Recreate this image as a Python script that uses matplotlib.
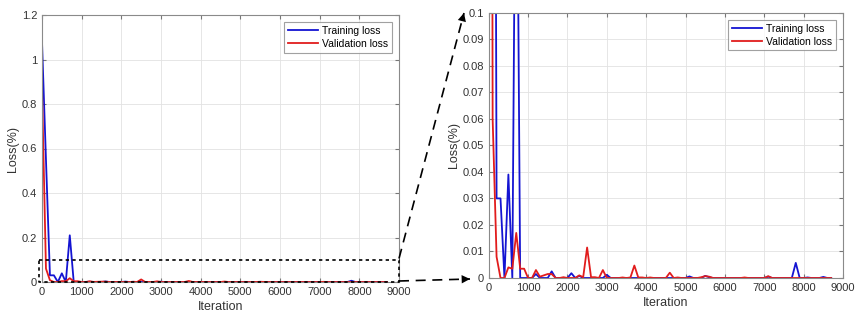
import matplotlib
matplotlib.use("Agg")
import matplotlib.pyplot as plt
from matplotlib.ticker import FuncFormatter
from matplotlib.patches import FancyArrowPatch
from matplotlib.lines import Line2D

plt.rcParams['font.family'] = ['Liberation Sans', 'DejaVu Sans']
plt.rcParams['font.size'] = 8

# iterations (every 100)
iterations = [i * 100 for i in range(88)]

training_loss = [
    1.08, 0.55, 0.030, 0.030, 0.0, 0.039, 0.0, 0.21, 0.0, 0.0,
    0.0, 0.0, 0.0015, 0.0, 0.0, 0.0, 0.0025, 0.0, 0.0, 0.0,
    0.0, 0.0018, 0.0, 0.0008, 0.0, 0.0, 0.0, 0.0, 0.0, 0.0,
    0.0012, 0.0, 0.0, 0.0, 0.0, 0.0, 0.0, 0.0, 0.0, 0.0,
    0.0, 0.0, 0.0, 0.0, 0.0, 0.0, 0.0, 0.0, 0.0, 0.0,
    0.0, 0.0006, 0.0, 0.0, 0.0, 0.0008, 0.0003, 0.0, 0.0, 0.0,
    0.0, 0.0, 0.0, 0.0, 0.0, 0.0, 0.0, 0.0, 0.0, 0.0,
    0.0, 0.0005, 0.0, 0.0, 0.0, 0.0, 0.0, 0.0, 0.0057, 0.0,
    0.0, 0.0002, 0.0, 0.0, 0.0, 0.0004, 0.0, 0.0,
]

validation_loss = [
    0.87, 0.06, 0.008, 0.0, 0.0, 0.004, 0.0035, 0.017, 0.0035, 0.0035,
    0.0, 0.0, 0.003, 0.0005, 0.001, 0.0015, 0.0015, 0.0, 0.0, 0.0003,
    0.0, 0.0, 0.0, 0.001, 0.0003, 0.0115, 0.0003, 0.0003, 0.0, 0.003,
    0.0, 0.0, 0.0, 0.0, 0.0002, 0.0, 0.0002, 0.0047, 0.0002, 0.0002,
    0.0, 0.0002, 0.0, 0.0, 0.0, 0.0, 0.002, 0.0, 0.0002, 0.0,
    0.0, 0.0, 0.0, 0.0, 0.0003, 0.0007, 0.0005, 0.0, 0.0, 0.0,
    0.0, 0.0, 0.0, 0.0, 0.0, 0.0002, 0.0, 0.0, 0.0, 0.0,
    0.0, 0.0007, 0.0, 0.0, 0.0, 0.0, 0.0, 0.0, 0.0, 0.0,
    0.0, 0.0, 0.0, 0.0, 0.0, 0.0, 0.0, 0.0,
]

x_ticks = [0, 1000, 2000, 3000, 4000, 5000, 6000, 7000, 8000, 9000]
y_ticks_full = [0, 0.2, 0.4, 0.6, 0.8, 1.0, 1.2]
y_ticks_zoom = [0, 0.01, 0.02, 0.03, 0.04, 0.05, 0.06, 0.07, 0.08, 0.09, 0.1]

blue = '#1414d2'
red = '#e11c1c'

fig = plt.figure(figsize=(8.65, 3.18), dpi=100)
W, H = 865, 318

def px(x, y):
    return (x / W, 1 - y / H)

ax1 = fig.add_axes([42 / W, 1 - 282 / H, 357 / W, 267 / H])
ax2 = fig.add_axes([488.7 / W, 1 - 278 / H, 354.3 / W, 265.3 / H])

fmt = FuncFormatter(lambda v, p: '%g' % round(v, 4))

for ax, yt in [(ax1, y_ticks_full), (ax2, y_ticks_zoom)]:
    ax.plot(iterations, training_loss, color=blue, lw=1.3, label='Training loss')
    ax.plot(iterations, validation_loss, color=red, lw=1.3, label='Validation loss')
    ax.set_xlim(0, 9000)
    ax.set_ylim(yt[0], yt[-1])
    ax.set_xticks(x_ticks)
    ax.set_yticks(yt)
    ax.yaxis.set_major_formatter(fmt)
    ax.grid(True, color='#e2e2e2', lw=0.6)
    ax.set_axisbelow(True)
    ax.tick_params(direction='in', length=3, color='#777777', labelcolor='#333333',
                   top=True, right=True, labelsize=8)
    for s in ax.spines.values():
        s.set_color('#8a8a8a')
        s.set_linewidth(0.8)
    ax.set_xlabel('Iteration', fontsize=9, color='#333333', labelpad=3)
    ax.set_ylabel('Loss(%)', fontsize=9, color='#333333', labelpad=2)
    leg = ax.legend(loc='upper right', fontsize=7.5, handlelength=2.9, fancybox=False,
                    borderaxespad=0.7, borderpad=0.35, labelspacing=0.3, handletextpad=0.4)
    leg.get_frame().set_edgecolor('#8a8a8a')
    leg.get_frame().set_linewidth(0.8)

# dotted zoom rectangle on the left plot
rx = [-70, 9000, 9000, -70, -70]
ry = [0.1, 0.1, -0.002, -0.002, 0.1]
ax1.plot(rx, ry, color='black', lw=1.2, ls=(0, (2, 2)), clip_on=False, zorder=5)

# dashed connector arrows
for start, end in [(px(399, 258.5), px(464, 13)), (px(399, 281), px(470, 279))]:
    fig.add_artist(Line2D([start[0], end[0]], [start[1], end[1]],
                          transform=fig.transFigure,
                          color='black', lw=1.2, ls=(0, (6, 4))))
    fig.add_artist(FancyArrowPatch(start, end, transform=fig.transFigure,
                                   arrowstyle='-|>,head_length=6,head_width=3',
                                   color='black', lw=0, shrinkA=0, shrinkB=0))

fig.savefig('out.png', dpi=100)
